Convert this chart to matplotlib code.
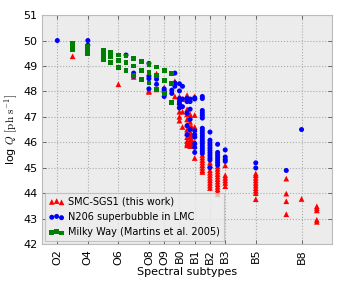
import matplotlib
matplotlib.use("Agg")
import matplotlib.pyplot as plt
import numpy as np

plt.rcParams['mathtext.fontset'] = 'cm'
plt.rcParams['font.family'] = ['DejaVu Sans']

# Spectral subtype axis: O2=2 ... O9=9, B0=10, B1=11 ...
tick_pos = [2, 4, 6, 8, 9, 10, 11, 12, 13, 15, 18]
tick_labels = ["O2", "O4", "O6", "O8", "O9", "B0", "B1", "B2", "B3", "B5", "B8"]

# SMC-SGS1 (this work)  -- (subtype, list of log Q)
smc_cols = [
    (3, [49.38]),
    (6, [48.28]),
    (7, [48.57]),
    (8, [47.98, 48.02]),
    (8.5, [48.08, 48.7]),
    (9, [48.05, 48.15]),
    (9.7, [48.4, 47.8]),
    (10, [47.8, 47.6, 47.45, 47.2, 47.0, 46.85]),
    (10.2, [47.7, 47.2, 46.6]),
    (10.5, [47.85, 47.3, 47.1, 46.9, 46.7, 46.5, 46.35, 46.2, 46.05, 45.95, 45.88]),
    (10.7, [47.1, 46.8, 46.6, 46.4, 46.3, 46.2, 46.1, 46.0, 45.9, 45.85]),
    (10.8, [46.6, 46.3, 46.1, 45.95, 45.85]),
    (11, [47.8, 47.07, 46.6, 46.3, 46.0, 45.85, 45.38]),
    (11.5, [45.5, 45.4, 45.3, 45.2, 45.1, 45.0, 44.9, 44.83]),
    (12, [45.2, 45.1, 44.9, 44.8, 44.7, 44.6, 44.5, 44.4, 44.3, 44.2]),
    (12.5, [45.05, 44.95, 44.85, 44.75, 44.65, 44.55, 44.45, 44.35, 44.25, 44.15, 44.05, 43.95]),
    (13, [45.09, 44.7, 44.6, 44.5, 44.4, 44.27]),
    (15, [44.77, 44.7, 44.6, 44.5, 44.4, 44.3, 44.2, 44.1, 44.0, 43.76]),
    (17, [44.57, 43.98, 43.68, 43.17]),
    (18, [43.77]),
    (19, [43.48, 43.4, 43.32, 42.95, 42.87]),
]

# N206 superbubble in LMC
n206_cols = [
    (2, [50.0]),
    (4, [50.0, 49.82]),
    (6.5, [49.43]),
    (7, [48.72, 48.6]),
    (8, [49.1, 48.6, 48.5, 48.1]),
    (8.5, [48.48, 48.28]),
    (9, [48.1, 48.0, 47.8]),
    (9.5, [48.05, 47.92]),
    (9.7, [48.72, 48.33, 48.2]),
    (10, [48.3, 48.02, 47.72, 47.6, 47.5, 47.35]),
    (10.2, [48.2, 47.7, 47.4]),
    (10.5, [47.72, 47.6, 47.15, 46.65, 46.3]),
    (10.7, [47.7, 47.6, 47.3, 46.9, 46.5]),
    (11, [47.75, 47.7, 46.45, 46.3, 46.2, 45.95, 45.8, 45.6]),
    (11.5, [47.8, 47.72, 47.25, 47.15, 47.05, 46.95, 46.55, 46.45, 46.35, 46.25,
            46.15, 46.05, 45.95, 45.85, 45.75, 45.65, 45.56]),
    (12, [46.4, 46.08, 45.98, 45.88, 45.78, 45.68, 45.58, 45.48, 45.38, 45.3, 45.0]),
    (12.5, [45.92, 45.6, 45.5, 45.4, 45.3, 45.2, 45.1]),
    (13, [45.7, 45.42, 45.32, 45.25]),
    (15, [45.19, 44.99]),
    (17, [44.89]),
    (18, [46.5]),
]

# Milky Way (Martins et al. 2005)
mw_types = [3, 4, 5, 5.5, 6, 6.5, 7, 7.5, 8, 8.5, 9, 9.5]
mw_dwarf = [49.63, 49.47, 49.26, 49.15, 48.95, 48.81, 48.64, 48.47, 48.33, 48.09, 47.92, 47.56]
mw_giant = [49.78, 49.64, 49.43, 49.37, 49.20, 49.14, 49.00, 48.83, 48.73, 48.64, 48.44, 48.31]
mw_super = [49.87, 49.75, 49.60, 49.55, 49.43, 49.39, 49.28, 49.16, 49.06, 48.96, 48.81, 48.70]


def flatten(cols):
    xs, ys = [], []
    for x, vals in cols:
        xs += [x] * len(vals)
        ys += vals
    return xs, ys


smc_x, smc_y = flatten(smc_cols)
n206_x, n206_y = flatten(n206_cols)
mw_x = mw_types * 3
mw_y = mw_dwarf + mw_giant + mw_super

fig = plt.figure(figsize=(3.42, 2.85), dpi=100)
ax = fig.add_axes([0.123, 0.144, 0.848, 0.803])
ax.set_facecolor('#ececec')

ax.scatter(smc_x, smc_y, marker='^', s=17, c='#ff0000', edgecolors='none',
           label='SMC-SGS1 (this work)', zorder=3)
ax.scatter(n206_x, n206_y, marker='o', s=13, c='#0000ff', edgecolors='none',
           label='N206 superbubble in LMC', zorder=3)
ax.scatter(mw_x, mw_y, marker='s', s=12, c='#008000', edgecolors='none',
           label='Milky Way (Martins et al. 2005)', zorder=3)

ax.set_xlim(1, 20)
ax.set_ylim(42, 51)
ax.set_xticks(tick_pos)
ax.set_xticklabels(tick_labels, rotation=90, fontsize=8)
ax.set_yticks(np.arange(42, 52, 1))
ax.tick_params(axis='y', labelsize=8)
ax.tick_params(direction='in', length=3, width=0.6, top=True, right=True, color='#555555')
ax.grid(True, linestyle=':', color='#aaaaaa', linewidth=0.8)
ax.set_axisbelow(True)
for sp in ax.spines.values():
    sp.set_color('#bbbbbb')
    sp.set_linewidth(0.8)

ax.set_xlabel('Spectral subtypes', fontsize=8, labelpad=2)
ax.set_ylabel(r'log $Q$ $[\mathrm{ph\ s^{-1}}]$', fontsize=8, labelpad=2)

leg = ax.legend(loc='lower left', scatterpoints=3, fontsize=7, fancybox=False,
                borderaxespad=0.3, handletextpad=0.4, labelspacing=0.55,
                handlelength=1.6)
leg.get_frame().set_facecolor('#ececec')
leg.get_frame().set_edgecolor('#bbbbbb')
leg.get_frame().set_linewidth(0.8)

fig.savefig('out.png', dpi=100)
